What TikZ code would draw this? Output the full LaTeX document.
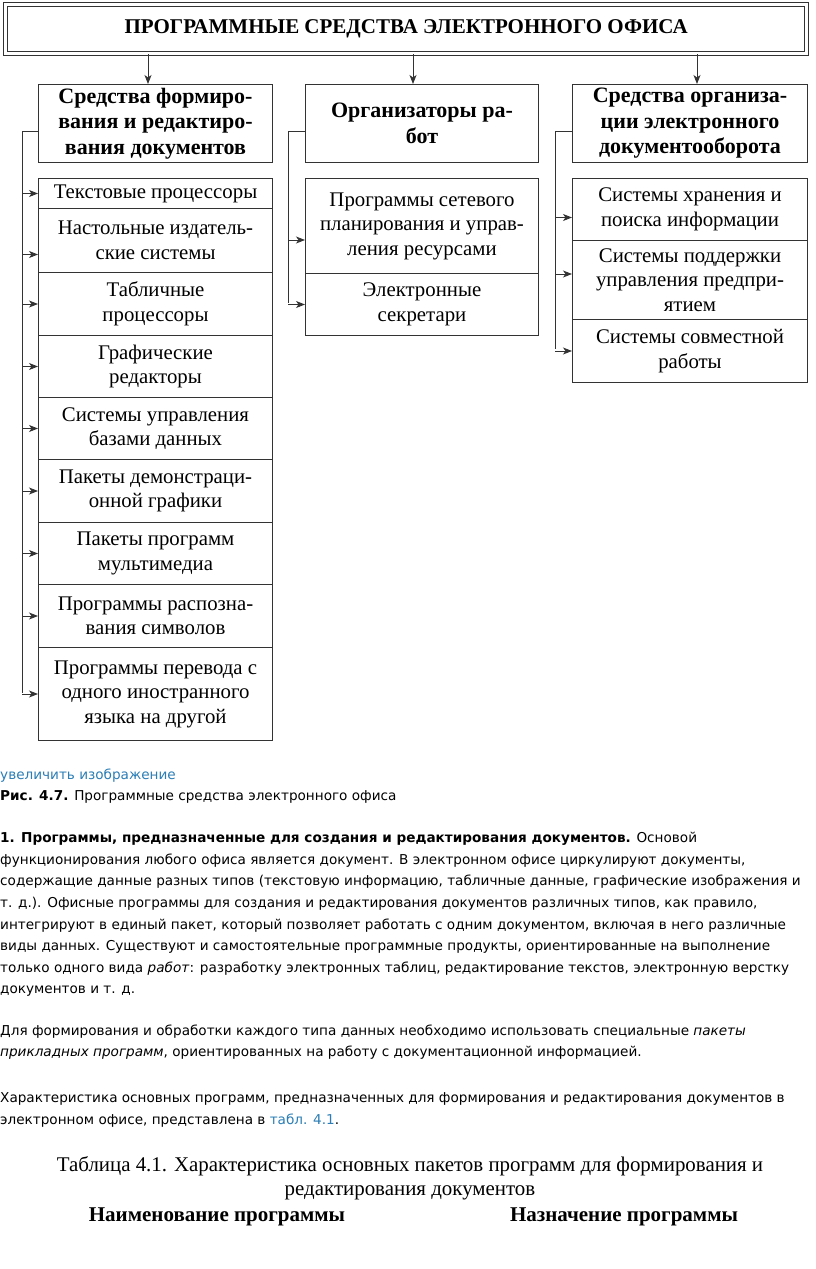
\documentclass[tikz,border=0pt]{standalone}
\usepackage{fontspec}
\setmainfont{Liberation Serif}
\newfontfamily\websans{DejaVu Sans}
\usetikzlibrary{arrows.meta}
\definecolor{linkblue}{HTML}{2A7DB5}
\definecolor{boxline}{HTML}{333333}
\begin{document}
\begin{tikzpicture}[x=1pt,y=-1pt,
  box/.style={draw=boxline, line width=1pt, anchor=north west, inner sep=0pt, align=center},
  hdr/.style={box, font=\fontsize{22}{25.5}\selectfont\bfseries},
  item/.style={box, font=\fontsize{20.8}{24.5}\selectfont},
  conn/.style={draw=boxline, line width=0.9pt},
  arr/.style={conn, -{Stealth[length=9pt,width=7pt,inset=2.5pt]}},
  body/.style={anchor=mid west, inner sep=0pt, yshift=-2pt, font=\websans\fontsize{13.6}{16}\selectfont},
  serifline/.style={anchor=mid, inner sep=0pt, yshift=-3pt, font=\fontsize{20.9}{24}\selectfont}
]
\useasboundingbox (0,0) rectangle (816,1269);

% title
\node[draw=boxline, line width=1.3pt, double=white, double distance=2.4pt,
      minimum width=801pt, minimum height=49pt, anchor=north west, inner sep=0pt] (title) at (5,4)
  {\fontsize{21}{23}\selectfont\bfseries ПРОГРАММНЫЕ СРЕДСТВА ЭЛЕКТРОННОГО ОФИСА};

% column 1
\node[hdr, minimum width=234pt, minimum height=78pt] (h1) at (38,84)
  {Средства формиро-\\вания и редактиро-\\вания документов};
\node[item, minimum width=234pt, minimum height=30pt] (a1) at (38,178) {Текстовые процессоры};
\node[item, minimum width=234pt, minimum height=64pt] (a2) at (38,208) {Настольные издатель-\\ские системы};
\node[item, minimum width=234pt, minimum height=63pt] (a3) at (38,272) {Табличные\\процессоры};
\node[item, minimum width=234pt, minimum height=62pt] (a4) at (38,335) {Графические\\редакторы};
\node[item, minimum width=234pt, minimum height=62pt] (a5) at (38,397) {Системы управления\\базами данных};
\node[item, minimum width=234pt, minimum height=63pt] (a6) at (38,459) {Пакеты демонстраци-\\онной графики};
\node[item, minimum width=234pt, minimum height=62pt] (a7) at (38,522) {Пакеты программ\\мультимедиа};
\node[item, minimum width=234pt, minimum height=63pt] (a8) at (38,584) {Программы распозна-\\вания символов};
\node[item, minimum width=234pt, minimum height=93pt] (a9) at (38,647) {Программы перевода с\\одного иностранного\\языка на другой};

% column 2
\node[hdr, minimum width=233pt, minimum height=78pt] (h2) at (305,84)
  {Организаторы ра-\\бот};
\node[item, minimum width=233pt, minimum height=95pt] (b1) at (305,178) {Программы сетевого\\планирования и управ-\\ления ресурсами};
\node[item, minimum width=233pt, minimum height=62pt] (b2) at (305,273) {Электронные\\секретари};

% column 3
\node[hdr, minimum width=235pt, minimum height=78pt] (h3) at (572,84)
  {Средства организа-\\ции электронного\\документооборота};
\node[item, minimum width=235pt, minimum height=62pt] (c1) at (572,178) {Системы хранения и\\поиска информации};
\node[item, minimum width=235pt, minimum height=79pt] (c2) at (572,240) {Системы поддержки\\управления предпри-\\ятием};
\node[item, minimum width=235pt, minimum height=63pt] (c3) at (572,319) {Системы совместной\\работы};

% arrows from title
\coordinate (t1) at (148,0);
\coordinate (t2) at (413,0);
\coordinate (t3) at (697,0);
\draw[arr] (t1 |- title.south) -- (t1 |- h1.north);
\draw[arr] (t2 |- title.south) -- (t2 |- h2.north);
\draw[arr] (t3 |- title.south) -- (t3 |- h3.north);

% buses
\coordinate (bus1) at (22,693);
\coordinate (bus2) at (288,303);
\coordinate (bus3) at (555,349);
\draw[conn] ([yshift=-8pt]h1.west) -| (bus1);
\draw[conn] ([yshift=-8pt]h2.west) -| (bus2);
\draw[conn] ([yshift=-8pt]h3.west) -| (bus3);
\foreach \n/\s in {a1/0,a2/-14,a3/0,a4/0,a5/0,a6/0,a7/0,a8/0,a9/0,b1/-14,b2/0,c1/-8,c2/6,c3/0}{
  \coordinate (e\n) at ([yshift=\s pt]\n.west);
}
\foreach \n in {a1,a2,a3,a4,a5,a6,a7,a8,a9}
  \draw[arr] (bus1 |- e\n) -- (e\n);
\foreach \n in {b1,b2}
  \draw[arr] (bus2 |- e\n) -- (e\n);
\foreach \n in {c1,c2,c3}
  \draw[arr] (bus3 |- e\n) -- (e\n);

% body text
\node[body, text=linkblue] (l1) at (0,775) {увеличить изображение};
\node[body] (l2) at (0,796) {\textbf{Рис. 4.7.} Программные средства электронного офиса};
\node[body] (l3) at (0,838) {\textbf{1. Программы, предназначенные для создания и редактирования документов.} Основой};
\node[body] (l4) at (0,860) {функционирования любого офиса является документ. В электронном офисе циркулируют документы,};
\node[body] (l5) at (0,881) {содержащие данные разных типов (текстовую информацию, табличные данные, графические изображения и};
\node[body] (l6) at (0,903) {т. д.). Офисные программы для создания и редактирования документов различных типов, как правило,};
\node[body] (l7) at (0,925) {интегрируют в единый пакет, который позволяет работать с одним документом, включая в него различные};
\node[body] (l8) at (0,946) {виды данных. Существуют и самостоятельные программные продукты, ориентированные на выполнение};
\node[body] (l9) at (0,968) {только одного вида \textit{работ}: разработку электронных таблиц, редактирование текстов, электронную верстку};
\node[body] (l10) at (0,989) {документов и т. д.};
\node[body] (l11) at (0,1031) {Для формирования и обработки каждого типа данных необходимо использовать специальные \textit{пакеты}};
\node[body] (l12) at (0,1052) {\textit{прикладных программ}, ориентированных на работу с документационной информацией.};
\node[body] (l13) at (0,1098) {Характеристика основных программ, предназначенных для формирования и редактирования документов в};
\node[body] (l14) at (0,1120) {электронном офисе, представлена в \textcolor{linkblue}{табл. 4.1}.};

\node[serifline] (s1) at (410,1166) {Таблица 4.1. Характеристика основных пакетов программ для формирования и};
\node[serifline] (s2) at (410,1190) {редактирования документов};
\node[serifline, font=\fontsize{21}{24}\selectfont\bfseries] (s3) at (217,1216) {Наименование программы};
\node[serifline, font=\fontsize{21}{24}\selectfont\bfseries] (s4) at (624,1216) {Назначение программы};
\end{tikzpicture}
\end{document}
